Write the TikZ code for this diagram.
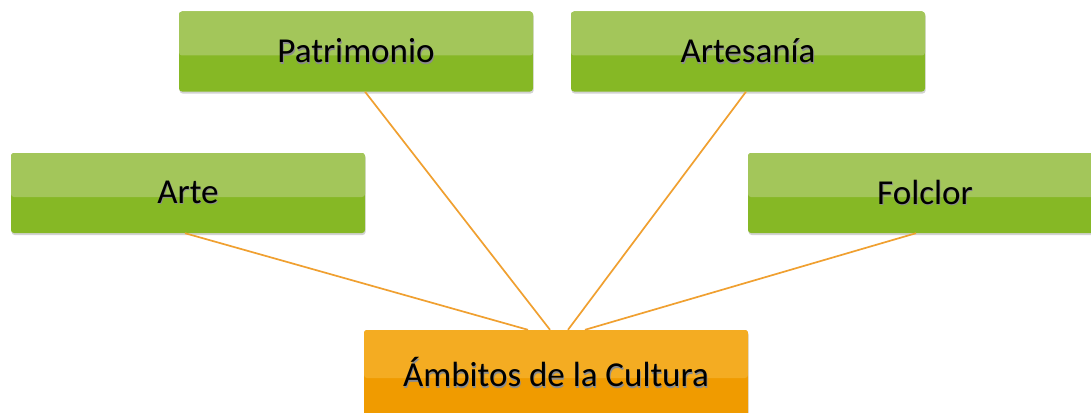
\documentclass[tikz,border=0pt]{standalone}
\usepackage{fontspec}
\setmainfont{Carlito}
\usetikzlibrary{calc}
\usetikzlibrary{positioning}
\usetikzlibrary{shadows}

\definecolor{greenlow}{HTML}{86B825}
\definecolor{greenhigh}{HTML}{A3C65A}
\definecolor{orangelow}{HTML}{F09B00}
\definecolor{orangehigh}{HTML}{F4AC22}
\definecolor{linkline}{HTML}{F0A030}

% texto con sombra
\newcommand{\rotulo}[1]{\makebox[0pt][l]{\hspace{0.8pt}\raisebox{-1.6pt}{\color{black!45}#1}}#1}

\tikzset{
  ambito/.style={rectangle, rounded corners=3pt, minimum width=354pt,
    minimum height=80pt, fill=greenlow, inner sep=0pt,
    font=\fontsize{35}{40}\selectfont,
    drop shadow={shadow xshift=0.6pt, shadow yshift=-2pt, opacity=0.35},
    path picture={\fill[greenhigh] (path picture bounding box.north west)
      rectangle ($(path picture bounding box.east)+(0,-4pt)$);}},
  raiz/.style={ambito, minimum width=384pt, minimum height=86pt, fill=orangelow,
    path picture={\fill[orangehigh] (path picture bounding box.north west)
      rectangle ($(path picture bounding box.east)+(0,-5pt)$);}},
  enlace/.style={draw=linkline, line width=1.7pt}
}

\begin{document}
\begin{tikzpicture}[x=1pt, y=-1pt]
  \clip (0,0) rectangle (1091,412);
  \fill[white] (0,0) rectangle (1091,412);

  % nodos
  \node[ambito] (patrimonio) at (356,51.5) {\rotulo{Patrimonio}};
  \node[ambito] (artesania) at (748,51.5) {\rotulo{Artesanía}};
  \node[ambito] (arte) at (188,193) {\rotulo{Arte}};
  \node[ambito] (folclor) at (925,193) {\rotulo{Folclor}};
  \node[raiz] (cultura) at (556,373) {\rotulo{Ámbitos de la Cultura}};

  % puntos de llegada
  \coordinate (c1) at ($(cultura.north)+(-28,0)$);
  \coordinate (c2) at ($(cultura.north)+(-6,0)$);
  \coordinate (c3) at ($(cultura.north)+(12,0)$);
  \coordinate (c4) at ($(cultura.north)+(29,0)$);

  % enlaces
  \draw[enlace] ($(arte.south)+(-3,0)$) -- (c1);
  \draw[enlace] ($(patrimonio.south)+(9,0)$) -- (c2);
  \draw[enlace] ($(artesania.south)+(-2,0)$) -- (c3);
  \draw[enlace] ($(folclor.south)+(-9,0)$) -- (c4);
\end{tikzpicture}
\end{document}
